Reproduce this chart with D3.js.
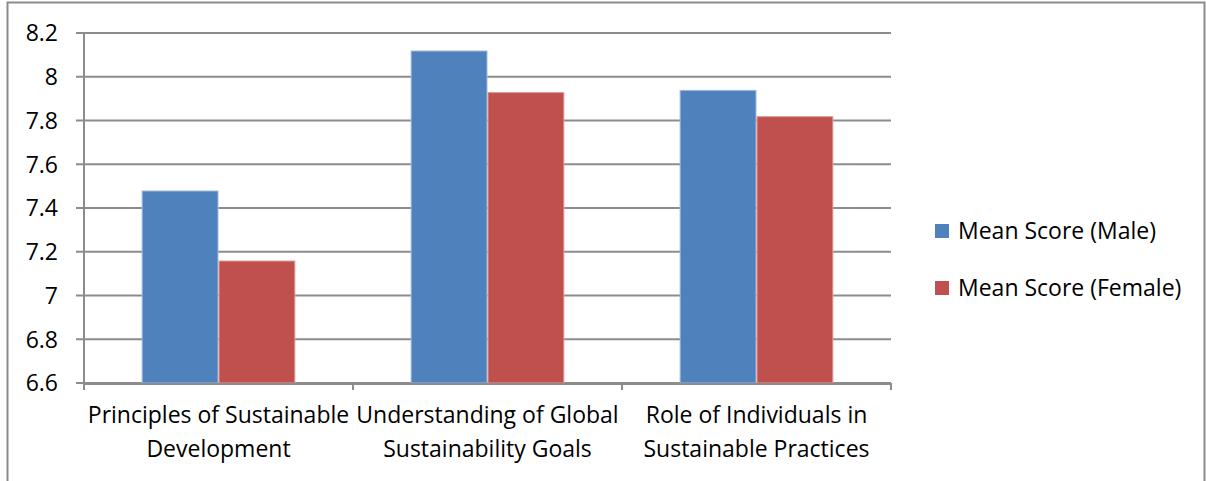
<!DOCTYPE html>
<html><head><meta charset="utf-8">
<script src="https://cdn.jsdelivr.net/npm/d3@7"></script>
<style>body{margin:0;background:#fff}svg{display:block}text{font-family:"Open Sans",sans-serif;fill:#000}</style>
</head><body>
<script>
const categories = [["Principles of Sustainable","Development"],["Understanding of Global","Sustainability Goals"],["Role of Individuals in","Sustainable Practices"]];
const seriesNames = ["Mean Score (Male)","Mean Score (Female)"];
const maleValues = [7.48, 8.12, 7.94];
const femaleValues = [7.16, 7.93, 7.82];
const yTicks = [6.6,6.8,7,7.2,7.4,7.6,7.8,8,8.2];
const colors = ["#4F81BD","#C0504D"];
const edge = ["#9DB9DD","#E09C9A"];

const W=1206,H=481;
const svg=d3.select("body").append("svg").attr("width",W).attr("height",H);
svg.append("rect").attr("x",7.5).attr("y",2.5).attr("width",1197).attr("height",500).attr("fill","none").attr("stroke","#8c8c8c").attr("stroke-width",2);

const L=84,R=891,T=33,B=383;
const x=d3.scaleBand().domain(d3.range(categories.length)).range([L,R]).paddingInner(0).paddingOuter(0);
const y=d3.scaleLinear().domain([6.6,8.2]).range([B,T]);

svg.append("g").selectAll("line").data(yTicks).join("line")
 .attr("x1",L-8).attr("x2",R).attr("y1",d=>y(d)).attr("y2",d=>y(d))
 .attr("stroke","#8c8c8c").attr("stroke-width",2);
svg.append("line").attr("x1",L).attr("x2",L).attr("y1",T).attr("y2",B).attr("stroke","#8c8c8c").attr("stroke-width",2);
svg.append("g").selectAll("text").data(yTicks).join("text")
 .attr("x",58).attr("y",d=>y(d)).attr("dy","0.36em").attr("text-anchor","end")
 .style("font-size","23px").text(d=>d3.format("")(d));

const sub=d3.scaleBand().domain([0,1]).range([0,x.bandwidth()]).paddingInner(0).paddingOuter(0.75);
const data=[maleValues,femaleValues];
data.forEach((vals,si)=>{
 svg.append("g").selectAll("rect").data(vals).join("rect")
  .attr("x",(d,i)=>x(i)+sub(si)+0.5).attr("width",sub.bandwidth()-1)
  .attr("y",d=>y(d)+0.5).attr("height",d=>B-y(d)-0.5)
  .attr("fill",colors[si]).attr("stroke",edge[si]).attr("stroke-width",1);
});

svg.append("line").attr("x1",L).attr("x2",R).attr("y1",B+1).attr("y2",B+1).attr("stroke","#8c8c8c").attr("stroke-width",2);
const bounds=d3.range(categories.length+1).map(i=>L+i*x.bandwidth());
svg.append("g").selectAll("line").data(bounds).join("line")
 .attr("x1",d=>d).attr("x2",d=>d).attr("y1",B).attr("y2",B+7).attr("stroke","#8c8c8c").attr("stroke-width",2);

categories.forEach((lines,i)=>{
 lines.forEach((t,j)=>{
  svg.append("text").attr("x",x(i)+x.bandwidth()/2).attr("y",423+j*34).attr("text-anchor","middle")
   .style("font-size","23px").text(t);
 });
});

seriesNames.forEach((n,i)=>{
 const ly=231+i*57;
 svg.append("rect").attr("x",935).attr("y",ly-7).attr("width",14).attr("height",14).attr("fill",colors[i]);
 svg.append("text").attr("x",958).attr("y",ly).attr("dy","0.36em").style("font-size","23px").text(n);
});
</script>
</body></html>
